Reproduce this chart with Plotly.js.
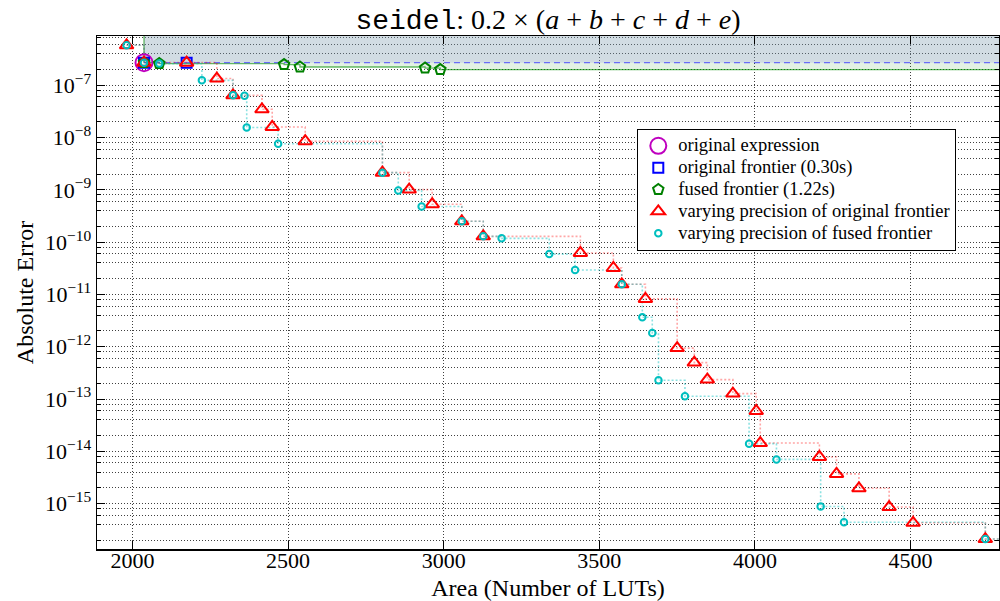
<!DOCTYPE html>
<html>
<head>
<meta charset="utf-8">
<script src="https://cdn.plot.ly/plotly-3.0.1.min.js"></script>
<style>html,body{margin:0;padding:0;background:#fff;}#chart{width:1000px;height:601px;}</style>
</head>
<body>
<div id="chart"></div>
<script>
// ---------------- data ----------------
const origExprX = [2037];
const origExprY = [2.7e-7];

const origFrontX = [2037, 2174];
const origFrontY = [2.7e-7, 2.7e-7];

const fusedFrontX = [2037, 2086, 2487, 2538, 2940, 2989];
const fusedFrontY = [2.7e-7, 2.59e-7, 2.48e-7, 2.23e-7, 2.13e-7, 1.99e-7];

const varOrigX = [1981, 2037, 2174, 2271, 2323, 2416, 2449, 2555, 2803, 2889, 2963, 3058, 3127,
                  3439, 3545, 3572, 3648, 3750, 3805, 3847, 3929, 4004, 4017, 4207, 4262, 4334,
                  4431, 4508, 4740];
const varOrigY = [5.8e-7, 2.7e-7, 2.7e-7, 1.34e-7, 6.4e-8, 3.46e-8, 1.59e-8, 8.5e-9, 2.13e-9, 1.01e-9,
                  5.3e-10, 2.5e-10, 1.29e-10, 6.2e-11, 3.2e-11, 1.56e-11, 8.2e-12, 9.4e-13, 4.97e-13,
                  2.35e-13, 1.27e-13, 5.9e-14, 1.44e-14, 7.8e-15, 3.7e-15, 1.96e-15, 8.6e-16, 4.3e-16,
                  2.1e-16];

const varFusedX = [1981, 2037, 2086, 2223, 2323, 2360, 2367, 2468, 2803, 2854, 2929, 3058, 3127,
                   3186, 3339, 3422, 3572, 3638, 3670, 3690, 3775, 3981, 4069, 4211, 4286, 4740];
const varFusedY = [5.8e-7, 2.7e-7, 2.59e-7, 1.24e-7, 6.4e-8, 6.3e-8, 1.55e-8, 7.6e-9, 2.13e-9, 9.7e-10,
                   4.8e-10, 2.5e-10, 1.29e-10, 1.18e-10, 5.9e-11, 2.93e-11, 1.56e-11, 3.65e-12, 1.83e-12,
                   2.28e-13, 1.13e-13, 1.4e-14, 7.0e-15, 8.8e-16, 4.4e-16, 2.1e-16];

const xTickVals = [2000, 2500, 3000, 3500, 4000, 4500];
const yTickExps = [-15, -14, -13, -12, -11, -10, -9, -8, -7];
const yMinorMult = [2, 4, 6, 8];

const legendNames = ['original expression', 'original frontier (0.30s)', 'fused frontier (1.22s)',
                     'varying precision of original frontier', 'varying precision of fused frontier'];

// ---------------- axes ----------------
const xRange = [1886, 4784];
const yRangeLog = [-15.868, -6.059];
const xMax = xRange[1];
const yTop = Math.pow(10, yRangeLog[1]);

const yTickVals = yTickExps.map(e => Math.pow(10, e));
const yTickText = yTickExps.map(e => '10<sup>\u2212' + Math.abs(e) + '</sup>');
const yMinorVals = [];
for (let e = -16; e <= -7; e++) yMinorMult.forEach(m => yMinorVals.push(m * Math.pow(10, e)));

// ---------------- helpers ----------------
function extend(xs, ys) { return [xs.concat([xMax]), ys.concat([ys[ys.length - 1]])]; }
function legName(i) { return '<span style="font-size:18.5px">' + legendNames[i] + '</span>'; }

// fused frontier step polygon
const fx = [fusedFrontX[0], fusedFrontX[0]];
const fy = [yTop, fusedFrontY[0]];
for (let i = 1; i < fusedFrontX.length; i++) {
  fx.push(fusedFrontX[i], fusedFrontX[i]);
  fy.push(fusedFrontY[i - 1], fusedFrontY[i]);
}
fx.push(xMax); fy.push(fusedFrontY[fusedFrontY.length - 1]);
const fusedLineX = fx.slice(), fusedLineY = fy.slice();
fx.push(xMax); fy.push(yTop);

const origMin = Math.min(...origFrontY);
const oRegX = [origFrontX[0], xMax, xMax, origFrontX[0]];
const oRegY = [origMin, origMin, yTop, yTop];

const [rStepX, rStepY] = extend(varOrigX, varOrigY);
const [cStepX, cStepY] = extend(varFusedX, varFusedY);
const [oStepX, oStepY] = extend(origFrontX, origFrontY);

const traces = [
  {x: fx, y: fy, mode: 'lines', fill: 'toself', fillcolor: 'rgba(0,128,0,0.11)',
   line: {width: 0}, showlegend: false, hoverinfo: 'skip'},
  {x: oRegX, y: oRegY, mode: 'lines', fill: 'toself', fillcolor: 'rgba(160,165,225,0.28)',
   line: {width: 0}, showlegend: false, hoverinfo: 'skip'},
  {x: fusedLineX, y: fusedLineY, mode: 'lines', line: {color: 'rgba(0,140,0,0.6)', width: 1.3},
   showlegend: false, hoverinfo: 'skip'},
  {x: oStepX, y: oStepY, mode: 'lines', line: {color: 'rgba(60,60,255,0.7)', width: 1.3, dash: '6px,4px', shape: 'hv'},
   showlegend: false, hoverinfo: 'skip'},
  {x: rStepX, y: rStepY, mode: 'lines', line: {color: 'rgba(255,0,0,0.35)', width: 1.6, dash: '2px,2px', shape: 'hv'},
   showlegend: false, hoverinfo: 'skip'},
  {x: cStepX, y: cStepY, mode: 'lines', line: {color: 'rgba(0,191,191,0.45)', width: 1.6, dash: '2px,2px', shape: 'hv'},
   showlegend: false, hoverinfo: 'skip'},
  {x: origExprX, y: origExprY, mode: 'markers', name: legName(0),
   marker: {symbol: 'circle-open', size: 17, color: '#bf00bf', line: {width: 2, color: '#bf00bf'}}},
  {x: origFrontX, y: origFrontY, mode: 'markers', name: legName(1),
   marker: {symbol: 'square-open', size: 10, color: '#0000ff', line: {width: 2, color: '#0000ff'}}},
  {x: fusedFrontX, y: fusedFrontY, mode: 'markers', name: legName(2),
   marker: {symbol: 'pentagon-open', size: 11, color: '#008000', line: {width: 2, color: '#008000'}}},
  {x: varOrigX, y: varOrigY, mode: 'markers', name: legName(3),
   marker: {symbol: 'triangle-up-open', size: 12, color: '#ff0000', line: {width: 2, color: '#ff0000'}}},
  {x: varFusedX, y: varFusedY, mode: 'markers', name: legName(4),
   marker: {symbol: 'circle-open', size: 6.5, color: '#00bfbf', line: {width: 2, color: '#00bfbf'}}}
];

const serif = 'Liberation Serif, Times New Roman, serif';
const gridCol = 'rgba(0,0,0,0.75)';

const layout = {
  width: 1000, height: 601,
  margin: {l: 97, r: 1, t: 36, b: 52},
  paper_bgcolor: '#fff', plot_bgcolor: '#fff',
  font: {family: serif, color: '#000', size: 22},
  title: {
    text: '<span style="font-family:Liberation Mono">seidel</span>: 0.2 \u00d7 (<i>a</i> + <i>b</i> + <i>c</i> + <i>d</i> + <i>e</i>)',
    x: 0.5, xref: 'paper', xanchor: 'center', y: 0.968, yref: 'container', yanchor: 'middle',
    font: {family: serif, size: 28, color: '#000'}
  },
  xaxis: {
    type: 'linear', range: xRange, tickmode: 'array', tickvals: xTickVals,
    ticks: 'inside', ticklen: 8, tickwidth: 1, tickcolor: '#000', ticklabelstandoff: -9,
    showline: true, linecolor: '#000', linewidth: 1.5, mirror: 'ticks',
    showgrid: true, gridcolor: gridCol, griddash: '1px,2px', gridwidth: 1,
    zeroline: false, tickfont: {family: serif, size: 22},
    title: {text: 'Area (Number of LUTs)', font: {family: serif, size: 24}, standoff: 9}
  },
  yaxis: {
    type: 'log', range: yRangeLog, tickmode: 'array', tickvals: yTickVals, ticktext: yTickText,
    ticks: 'inside', ticklen: 8, tickwidth: 1, tickcolor: '#000',
    showline: true, linecolor: '#000', linewidth: 1.5, mirror: 'ticks',
    showgrid: true, gridcolor: gridCol, griddash: '1px,2px', gridwidth: 1,
    zeroline: false, tickfont: {family: serif, size: 22},
    minor: {tickmode: 'array', tickvals: yMinorVals, ticks: 'inside', ticklen: 4, tickcolor: '#000',
            showgrid: true, gridcolor: gridCol, griddash: '1px,2px', gridwidth: 1},
    title: {text: 'Absolute Error', font: {family: serif, size: 24}, standoff: 4}
  },
  legend: {
    x: 0.599, y: 0.819, xanchor: 'left', yanchor: 'top',
    bgcolor: '#fff', bordercolor: '#000', borderwidth: 1,
    font: {family: serif, size: 14.5, color: '#000'},
    itemwidth: 30, tracegroupgap: 0
  },
  showlegend: true
};

Plotly.newPlot('chart', traces, layout, {staticPlot: true, displayModeBar: false});
</script>
</body>
</html>
